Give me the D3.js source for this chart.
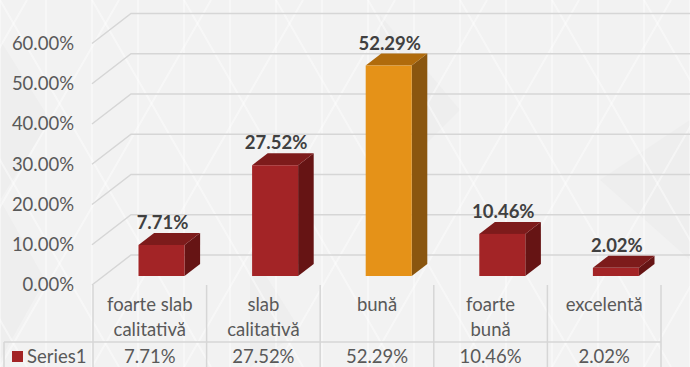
<!DOCTYPE html>
<html>
<head>
<meta charset="utf-8">
<script src="https://cdn.jsdelivr.net/npm/d3@7/dist/d3.min.js"></script>
<style>
  html, body { margin: 0; padding: 0; background: #f2f2f2; }
  svg { display: block; }
  text { font-family: Lato, "Noto Sans", sans-serif; }
</style>
</head>
<body>
<svg id="chart" width="690" height="367"></svg>
<script>
// Chart data
const categories = ["foarte slab calitativă", "slab calitativă", "bună", "foarte bună", "excelentă"];
const categoryLines = [["foarte slab", "calitativă"], ["slab", "calitativă"], ["bună"], ["foarte", "bună"], ["excelentă"]];
const values = [7.71, 27.52, 52.29, 10.46, 2.02];
const highlighted = [false, false, true, false, false];
const yTicks = [0, 10, 20, 30, 40, 50, 60];
const seriesName = "Series1";

const W = 690, H = 367;
const svg = d3.select("#chart");

// Palette
const red = { front: "#a32426", top: "#7d1b1b", side: "#661414" };
const orange = { front: "#e59218", top: "#b06b0c", side: "#8a560f" };
const gridColor = "#d6d6d6";
const axisText = "#595959";
const labelText = "#404040";
const fontSize = "18.5px";

// Soft triangular background lattice
const bg = svg.append("g");
bg.append("rect").attr("width", W).attr("height", H).attr("fill", "#f2f2f2");
const shade = [[0, 40, 50, 120, 0, 200], [0, 200, 45, 280, 0, 360], [380, 15, 460, 110, 380, 190],
               [250, 250, 300, 330, 250, 367], [600, 180, 690, 120, 690, 260]];
bg.selectAll("path.shade").data(shade).join("path")
  .attr("d", p => `M${p[0]},${p[1]}L${p[2]},${p[3]}L${p[4]},${p[5]}Z`)
  .attr("fill", "#ebebeb").attr("opacity", 0.6);
const step = 46, triH = 80;
const lattice = [];
for (let x = -step * 2; x <= W + step * 2; x += step) lattice.push([x, 0, x, H]);
for (let k = -12; k <= 20; k++) {
  const x0 = k * step * 2;
  lattice.push([x0, 0, x0 + step * 2 * (H / (triH * 2)), H]);
  lattice.push([x0, H, x0 + step * 2 * (H / (triH * 2)), 0]);
}
bg.selectAll("line").data(lattice).join("line")
  .attr("x1", d => d[0]).attr("y1", d => d[1]).attr("x2", d => d[2]).attr("y2", d => d[3])
  .attr("stroke", "#ffffff").attr("stroke-width", 2).attr("opacity", 0.45);

// Scales (front plane of the 3D box)
const x = d3.scaleBand().domain(categories).range([93, 661]).paddingInner(0).paddingOuter(0);
const y = d3.scaleLinear().domain([0, 60]).range([285, 43.5]);
const depthX = 39, depthY = -30;       // full floor depth offset
const barT0 = 0.3, barT1 = 0.7;        // bar occupies middle of the depth
const barFrac = 0.405;

// Gridlines: side wall diagonal + back wall horizontal
const grid = svg.append("g");
grid.selectAll("path").data(yTicks).join("path")
  .attr("d", v => `M${x.range()[0] - 1},${y(v)}L${x.range()[0] - 1 + depthX},${y(v) + depthY}L${W + 5},${y(v) + depthY}`)
  .attr("fill", "none").attr("stroke", gridColor).attr("stroke-width", 1.5);

// Y axis labels
const yAxis = d3.axisLeft(y).tickValues(yTicks).tickSize(0).tickPadding(0)
  .tickFormat(v => v.toFixed(2) + "%");
const yg = svg.append("g").attr("transform", "translate(74,0)").call(yAxis);
yg.select(".domain").remove();
yg.selectAll("text").attr("fill", axisText).style("font-size", fontSize)
  .style("font-family", "Lato, 'Noto Sans', sans-serif");

// 3D bars
const bars = svg.append("g");
categories.forEach((c, i) => {
  const v = values[i];
  const col = highlighted[i] ? orange : red;
  const bw = x.bandwidth() * barFrac;
  const cx = x(c) + x.bandwidth() / 2;
  const fx0 = cx - bw / 2 + depthX * barT0, fx1 = fx0 + bw;
  const fyB = y(0) + depthY * barT0, fyT = y(v) + depthY * barT0;
  const dx = depthX * (barT1 - barT0), dy = depthY * (barT1 - barT0);
  const g = bars.append("g");
  // side
  g.append("path").attr("d", `M${fx1},${fyT}L${fx1 + dx},${fyT + dy}L${fx1 + dx},${fyB + dy}L${fx1},${fyB}Z`)
    .attr("fill", col.side);
  // top
  g.append("path").attr("d", `M${fx0},${fyT}L${fx0 + dx},${fyT + dy}L${fx1 + dx},${fyT + dy}L${fx1},${fyT}Z`)
    .attr("fill", col.top);
  // front
  g.append("rect").attr("x", fx0).attr("y", fyT).attr("width", bw).attr("height", fyB - fyT)
    .attr("fill", col.front);
  // value label
  g.append("text").attr("x", (fx0 + fx1) / 2 + 1).attr("y", fyT + dy - 4)
    .attr("text-anchor", "middle").attr("fill", labelText)
    .style("font-size", fontSize).style("font-weight", "bold")
    .text(v.toFixed(2) + "%");
});

// Data table below the plot
const table = svg.append("g");
const tRight = x.range()[1];
const rowSplit = 342;
const colEdges = categories.map(c => x(c)).concat([tRight]);
table.selectAll("line.v").data(colEdges).join("line")
  .attr("x1", d => d).attr("x2", d => d).attr("y1", 285).attr("y2", H)
  .attr("stroke", gridColor).attr("stroke-width", 1.5);
table.append("line").attr("x1", 4).attr("x2", tRight).attr("y1", rowSplit).attr("y2", rowSplit)
  .attr("stroke", gridColor).attr("stroke-width", 1.5);
table.append("line").attr("x1", 4).attr("x2", 4).attr("y1", rowSplit).attr("y2", H)
  .attr("stroke", gridColor).attr("stroke-width", 1.5);

categories.forEach((c, i) => {
  const cx = x(c) + x.bandwidth() / 2;
  table.append("text").attr("x", cx).attr("y", 311).attr("text-anchor", "middle")
    .attr("fill", axisText).style("font-size", fontSize)
    .selectAll("tspan").data(categoryLines[i]).join("tspan")
    .attr("x", cx).attr("dy", (d, j) => j === 0 ? 0 : 25).text(d => d);
  table.append("text").attr("x", cx).attr("y", 363).attr("text-anchor", "middle")
    .attr("fill", axisText).style("font-size", fontSize)
    .text(values[i].toFixed(2) + "%");
});

// Legend key inside the table
table.append("rect").attr("x", 12).attr("y", 351).attr("width", 11).attr("height", 11).attr("fill", red.front);
table.append("text").attr("x", 27).attr("y", 363).attr("fill", axisText).style("font-size", fontSize).text(seriesName);
</script>
</body>
</html>
